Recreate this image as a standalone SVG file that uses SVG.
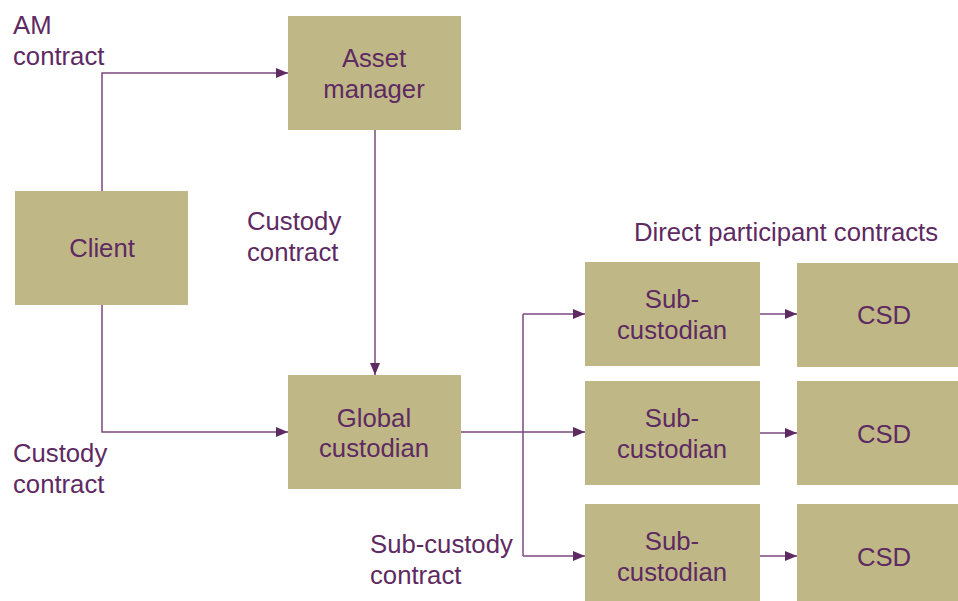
<svg xmlns="http://www.w3.org/2000/svg" width="958" height="601" viewBox="0 0 958 601">
<defs>
<marker id="arr" viewBox="0 0 12 10" refX="12" refY="5" markerWidth="12" markerHeight="10" markerUnits="userSpaceOnUse" orient="auto">
<path d="M0,0 L12,5 L0,10 Z" fill="#5e2a62"/>
</marker>
<style>
.box{fill:#bfb886}
text{font-family:"Liberation Sans",Arial,sans-serif;font-size:25.7px;fill:#5e2a62}
.c{text-anchor:middle}
.ln{fill:none;stroke:#7a4a80;stroke-width:1.5;marker-end:url(#arr)}
.nl{fill:none;stroke:#7a4a80;stroke-width:1.5}
</style>
</defs>
<rect width="958" height="601" fill="#ffffff"/>
<g id="connectors">
<path class="ln" d="M102,191 V73 H288"/>
<path class="ln" d="M102,305 V432 H288"/>
<path class="ln" d="M375,130 V375"/>
<path class="ln" d="M461,432 H585"/>
<path class="nl" d="M523,314 V556"/>
<path class="ln" d="M523,314 H585"/>
<path class="ln" d="M523,556 H585"/>
<path class="ln" d="M760,314 H797"/>
<path class="ln" d="M760,433 H797"/>
<path class="ln" d="M760,556 H797"/>
</g>
<g id="asset-manager"><rect class="box" x="288" y="16" width="173" height="114"/><text class="c" x="374" y="67">Asset</text><text class="c" x="374" y="98">manager</text></g>
<g id="client"><rect class="box" x="15" y="191" width="173" height="114"/><text class="c" x="102" y="257">Client</text></g>
<g id="global-custodian"><rect class="box" x="288" y="375" width="173" height="114"/><text class="c" x="374" y="427">Global</text><text class="c" x="374" y="457">custodian</text></g>
<g id="sub1"><rect class="box" x="585" y="262" width="175" height="104"/><text class="c" x="672" y="308">Sub-</text><text class="c" x="672" y="339">custodian</text></g>
<g id="sub2"><rect class="box" x="585" y="381" width="175" height="104"/><text class="c" x="672" y="427">Sub-</text><text class="c" x="672" y="458">custodian</text></g>
<g id="sub3"><rect class="box" x="585" y="504" width="175" height="97"/><text class="c" x="672" y="550">Sub-</text><text class="c" x="672" y="581">custodian</text></g>
<g id="csd1"><rect class="box" x="797" y="263" width="161" height="104"/><text class="c" x="884" y="324">CSD</text></g>
<g id="csd2"><rect class="box" x="797" y="381" width="161" height="104"/><text class="c" x="884" y="443">CSD</text></g>
<g id="csd3"><rect class="box" x="797" y="504" width="161" height="97"/><text class="c" x="884" y="566">CSD</text></g>
<g id="labels">
<text x="13" y="34">AM</text><text x="13" y="65">contract</text>
<text x="247" y="230">Custody</text><text x="247" y="261">contract</text>
<text x="13" y="462">Custody</text><text x="13" y="493">contract</text>
<text x="370" y="553">Sub-custody</text><text x="370" y="584">contract</text>
<text x="634" y="241">Direct participant contracts</text>
</g>
</svg>
